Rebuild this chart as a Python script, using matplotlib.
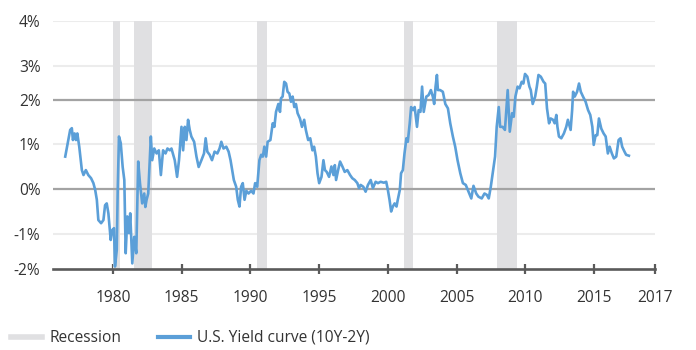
import numpy as np
import matplotlib
matplotlib.use("Agg")
import matplotlib.pyplot as plt
from matplotlib.lines import Line2D

plt.rcParams['font.family'] = ['Open Sans', 'DejaVu Sans']

# ---- data -------------------------------------------------------------
years = [
    1976.52, 1976.88, 1977.00, 1977.08, 1977.20, 1977.30, 1977.40, 1977.54, 1977.73, 1977.85,
    1978.02, 1978.20, 1978.40, 1978.57, 1978.70, 1978.82, 1978.93, 1979.13, 1979.30, 1979.42,
    1979.54, 1979.66, 1979.83, 1979.95, 1980.07, 1980.14, 1980.27, 1980.34, 1980.43, 1980.56,
    1980.70, 1980.82, 1980.92, 1981.04, 1981.16, 1981.25, 1981.40, 1981.54, 1981.69, 1981.83,
    1981.96, 1982.12, 1982.27, 1982.35, 1982.44, 1982.56, 1982.75, 1982.85, 1983.00, 1983.17,
    1983.33, 1983.48, 1983.64, 1983.82, 1983.96, 1984.13, 1984.25, 1984.49, 1984.66, 1984.80,
    1984.98, 1985.10, 1985.22, 1985.34, 1985.46, 1985.58, 1985.70, 1985.90, 1986.07, 1986.23,
    1986.43, 1986.62, 1986.74, 1986.86, 1987.03, 1987.20, 1987.39, 1987.59, 1987.75, 1987.88,
    1988.04, 1988.24, 1988.41, 1988.55, 1988.67, 1988.79, 1988.96, 1989.08, 1989.20, 1989.32,
    1989.44, 1989.57, 1989.70, 1989.86, 1990.05, 1990.22, 1990.34, 1990.49, 1990.65, 1990.78,
    1990.90, 1991.01, 1991.14, 1991.25, 1991.45, 1991.62, 1991.74, 1991.86, 1992.03, 1992.15,
    1992.22, 1992.34, 1992.46, 1992.59, 1992.70, 1992.83, 1992.95, 1993.07, 1993.19, 1993.31,
    1993.43, 1993.60, 1993.75, 1993.91, 1994.03, 1994.20, 1994.35, 1994.51, 1994.63, 1994.76,
    1994.88, 1995.00, 1995.17, 1995.31, 1995.42, 1995.55, 1995.72, 1995.89, 1996.04, 1996.14,
    1996.23, 1996.38, 1996.52, 1996.69, 1996.86, 1997.05, 1997.25, 1997.41, 1997.59, 1997.78,
    1997.90, 1998.02, 1998.21, 1998.38, 1998.55, 1998.75, 1998.91, 1999.11, 1999.28, 1999.47,
    1999.71, 1999.88, 2000.00, 2000.12, 2000.24, 2000.36, 2000.49, 2000.63, 2000.72, 2000.87,
    2000.96, 2001.09, 2001.21, 2001.35, 2001.45, 2001.59, 2001.69, 2001.83, 2001.95, 2002.12,
    2002.24, 2002.37, 2002.49, 2002.61, 2002.80, 2002.96, 2003.13, 2003.27, 2003.37, 2003.47,
    2003.57, 2003.64, 2003.80, 2004.00, 2004.18, 2004.37, 2004.54, 2004.73, 2004.90, 2005.07,
    2005.27, 2005.46, 2005.67, 2005.87, 2006.07, 2006.23, 2006.43, 2006.59, 2006.83, 2007.03,
    2007.20, 2007.34, 2007.49, 2007.63, 2007.80, 2007.92, 2008.07, 2008.17, 2008.35, 2008.52,
    2008.72, 2008.87, 2009.04, 2009.16, 2009.28, 2009.44, 2009.58, 2009.74, 2009.86, 2009.98,
    2010.15, 2010.30, 2010.40, 2010.54, 2010.72, 2010.84, 2010.96, 2011.13, 2011.33, 2011.45,
    2011.58, 2011.73, 2011.85, 2012.02, 2012.14, 2012.26, 2012.34, 2012.45, 2012.62, 2012.81,
    2012.98, 2013.10, 2013.30, 2013.41, 2013.48, 2013.60, 2013.77, 2013.91, 2014.04, 2014.20,
    2014.39, 2014.57, 2014.73, 2014.88, 2014.98, 2015.12, 2015.24, 2015.36, 2015.53, 2015.70,
    2015.85, 2016.01, 2016.14, 2016.30, 2016.45, 2016.62, 2016.79, 2016.93, 2017.05, 2017.22,
    2017.34, 2017.54,
]
spread = [
    0.72, 1.32, 1.36, 1.09, 1.24, 1.09, 1.24, 0.94, 0.42, 0.31,
    0.42, 0.31, 0.24, 0.13, -0.02, -0.24, -0.69, -0.76, -0.69, -0.36,
    -0.32, -0.54, -1.17, -0.91, -0.87, -1.93, -1.46, -0.02, 1.17, 1.02,
    0.49, 0.20, -1.55, -0.61, -0.98, -0.54, -1.84, -1.08, -1.55, 0.61,
    0.13, -0.32, -0.10, -0.40, -0.24, -0.10, 1.17, 0.64, 0.90, 0.79,
    0.86, 0.31, 0.86, 0.79, 0.90, 0.86, 0.90, 0.64, 0.27, 0.64,
    1.39, 0.86, 1.39, 1.09, 1.55, 1.32, 1.17, 1.05, 0.72, 0.49,
    0.64, 0.79, 1.13, 0.83, 0.76, 0.64, 0.83, 0.79, 0.90, 1.05,
    0.90, 0.94, 0.83, 0.64, 0.42, 0.20, 0.05, -0.24, -0.39, 0.05,
    0.13, -0.24, -0.04, -0.10, -0.04, -0.10, 0.13, 0.05, 0.64, 0.76,
    0.72, 0.94, 0.72, 1.05, 1.09, 1.47, 1.39, 1.73, 1.91, 1.73,
    2.05, 2.10, 2.53, 2.48, 2.24, 2.19, 1.96, 2.10, 1.84, 1.91,
    1.70, 1.58, 1.39, 1.55, 1.32, 1.09, 1.13, 0.86, 0.94, 0.72,
    0.35, 0.13, 0.27, 0.64, 0.42, 0.38, 0.27, 0.50, 0.31, 0.53,
    0.20, 0.42, 0.61, 0.50, 0.38, 0.42, 0.31, 0.24, 0.20, 0.13,
    0.02, 0.09, 0.05, -0.06, 0.09, 0.20, 0.02, 0.16, 0.13, 0.16,
    0.14, 0.16, -0.02, -0.24, -0.50, -0.39, -0.32, -0.39, -0.24, -0.02,
    0.35, 0.42, 0.79, 1.13, 1.05, 1.47, 1.84, 1.77, 1.84, 1.39,
    1.77, 1.73, 2.39, 1.73, 2.10, 2.14, 2.29, 2.10, 1.91, 2.39,
    2.73, 2.29, 2.29, 2.24, 1.91, 1.81, 1.47, 1.17, 0.94, 0.64,
    0.35, 0.13, 0.09, -0.06, -0.21, 0.07, -0.10, -0.17, -0.21, -0.10,
    -0.13, -0.21, 0.05, 0.35, 0.72, 1.39, 1.84, 1.39, 1.39, 1.32,
    2.29, 1.28, 1.70, 1.62, 2.10, 2.39, 2.34, 2.53, 2.48, 2.76,
    2.68, 2.39, 2.29, 1.91, 2.10, 2.39, 2.73, 2.68, 2.53, 2.48,
    1.81, 1.47, 1.58, 1.55, 1.47, 1.66, 1.39, 1.17, 1.13, 1.24,
    1.39, 1.55, 1.32, 1.77, 2.24, 2.10, 2.24, 2.48, 2.24, 2.10,
    1.96, 1.77, 1.66, 1.39, 0.98, 1.20, 1.20, 1.58, 1.35, 1.24,
    1.17, 0.79, 0.94, 0.79, 0.68, 0.72, 1.09, 1.13, 0.94, 0.83,
    0.76, 0.74,
]
recession_start = [1980.00, 1981.50, 1990.50, 2001.17, 2007.92]
recession_end = [1980.50, 1982.87, 1991.17, 2001.83, 2009.42]

y_ticks = [-2, -1, 0, 1, 2, 3, 4]
y_labels = ['-2%', '-1%', '0%', '1%', '2%', '3%', '4%']
x_ticks = [1980, 1985, 1990, 1995, 2000, 2005, 2010, 2015, 2019.44]
x_labels = ['1980', '1985', '1990', '1995', '2000', '2005', '2010', '2015', '2017']

# ---- styling ------------------------------------------------------------
W, H = 696, 350
LINE_C = '#5b9fd8'
REC_C = '#e0e0e2'
GRID_L = '#ececec'
GRID_D = '#a3a3a3'
AXIS_C = '#5a5a5a'
TEXT_C = '#333333'
FS = 11.2

# piecewise-linear vertical scale matching the reference's gridline spacing
grid_pos = np.array([400, 269, 234, 189, 144, 100, 65.7, 20.7, -200])
grid_u = 300.0 - grid_pos
grid_v = np.array([-5.74] + y_ticks + [8.89], dtype=float)

def fwd(v):
    return np.interp(v, grid_v, grid_u)

def inv(u):
    return np.interp(u, grid_u, grid_v)

fig = plt.figure(figsize=(W / 100, H / 100), dpi=100)
ax = fig.add_axes([53 / W, (H - 269) / H, (655 - 53) / W, (269 - 20.7) / H])
ax.set_yscale('function', functions=(fwd, inv))
ax.set_xlim(1975.63, 2019.44)
ax.set_ylim(-2, 4)

for v in y_ticks:
    if v in (0, 2):
        ax.axhline(v, color=GRID_D, lw=1.6, zorder=3)
    elif v != -2:
        ax.axhline(v, color=GRID_L, lw=1.5, zorder=1)

for s, e in zip(recession_start, recession_end):
    ax.axvspan(s, e, color=REC_C, lw=0, zorder=2)

ax.plot(years, spread, color=LINE_C, lw=1.9, zorder=4, solid_joinstyle='round')

for side in ('top', 'right', 'left'):
    ax.spines[side].set_visible(False)
ax.spines['bottom'].set_color(AXIS_C)
ax.spines['bottom'].set_linewidth(1.9)
ax.spines['bottom'].set_zorder(5)

ax.set_yticks(y_ticks)
ax.set_yticklabels(y_labels)
ax.yaxis.set_minor_locator(matplotlib.ticker.NullLocator())
ax.tick_params(axis='y', length=0, pad=9, labelsize=FS, labelcolor=TEXT_C)
ax.set_xticks(x_ticks)
ax.set_xticklabels(x_labels)
ax.tick_params(axis='x', direction='inout', length=7.5, width=1.6, color=AXIS_C,
               pad=11.5, labelsize=FS, labelcolor=TEXT_C)

handles = [Line2D([], [], color=REC_C, lw=4),
           Line2D([], [], color=LINE_C, lw=3)]
fig.legend(handles, ['Recession', 'U.S. Yield curve (10Y-2Y)'], loc='center left',
           bbox_to_anchor=(11 / W, (H - 338) / H), ncol=2, frameon=False,
           handlelength=2.0, handletextpad=0.5, columnspacing=2.35, borderpad=0,
           borderaxespad=0, prop={'size': FS}, labelcolor=TEXT_C)

fig.savefig('out.png', dpi=100)
